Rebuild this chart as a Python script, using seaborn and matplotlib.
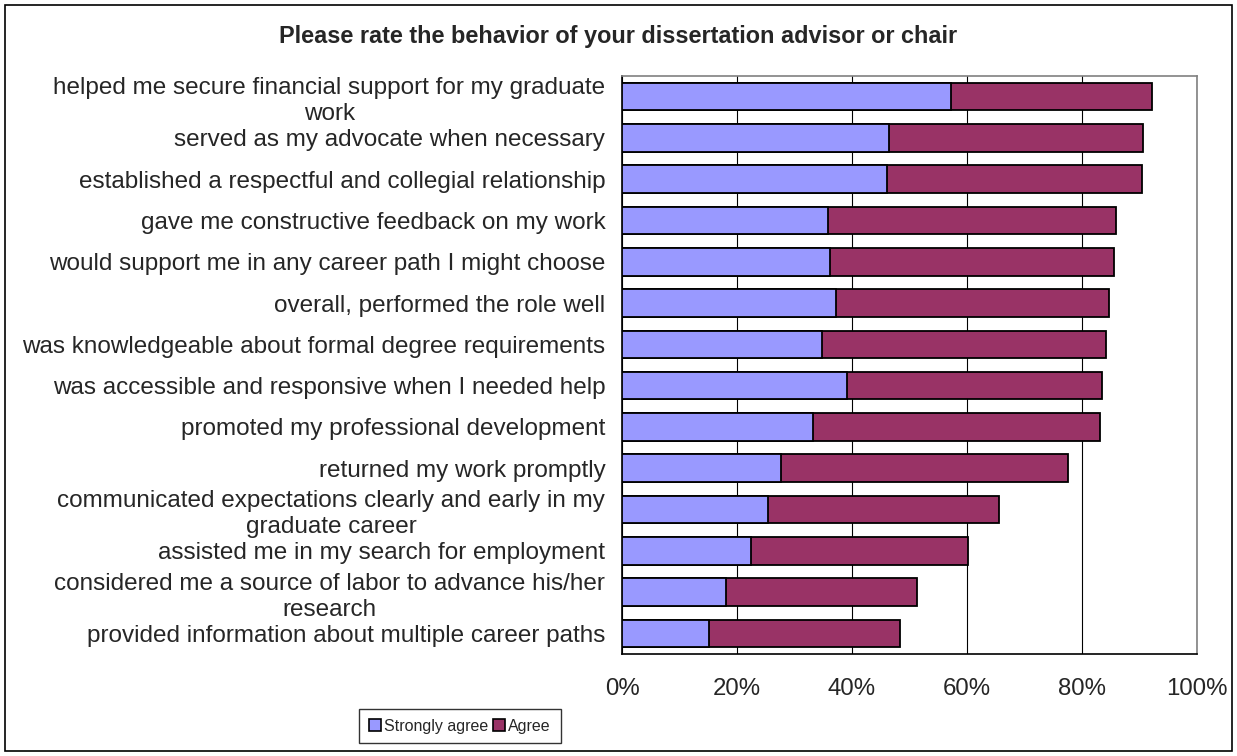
import matplotlib
matplotlib.use("Agg")
import matplotlib.pyplot as plt
import seaborn as sns
import pandas as pd
from matplotlib.patches import Rectangle, Patch
from matplotlib.ticker import FixedLocator

# ---------------- data (percent of respondents) ----------------
categories = [
    "helped me secure financial support for my graduate\nwork",
    "served as my advocate when necessary",
    "established a respectful and collegial relationship",
    "gave me constructive feedback on my work",
    "would support me in any career path I might choose",
    "overall, performed the role well",
    "was knowledgeable about formal degree requirements",
    "was accessible and responsive when I needed help",
    "promoted my professional development",
    "returned my work promptly",
    "communicated expectations clearly and early in my\ngraduate career",
    "assisted me in my search for employment",
    "considered me a source of labor to advance his/her\nresearch",
    "provided information about multiple career paths",
]
strongly_agree = [57.3, 46.4, 46.0, 35.9, 36.1, 37.2, 34.8, 39.2, 33.3, 27.6, 25.4, 22.5, 18.1, 15.1]
agree = [34.8, 44.2, 44.5, 50.0, 49.5, 47.5, 49.4, 44.2, 49.9, 50.0, 40.1, 37.7, 33.2, 33.3]
x_ticks = [0, 20, 40, 60, 80, 100]
x_tick_labels = ["0%", "20%", "40%", "60%", "80%", "100%"]

SA_COLOR = "#9999FF"
AG_COLOR = "#993366"

df = pd.DataFrame({"item": categories, "sa": strongly_agree, "ag": agree})
df["total"] = df["sa"] + df["ag"]

sns.set_style("white")
plt.rcParams["font.family"] = ["Liberation Sans", "DejaVu Sans"]

fig = plt.figure(figsize=(12.37, 7.56), dpi=100)
ax = fig.add_axes([622 / 1237, 1 - 654 / 756, 575 / 1237, 578 / 756])

# stacked look: full bar in Agree colour, Strongly agree drawn over it
sns.barplot(data=df, x="total", y="item", orient="h", color=AG_COLOR, saturation=1,
            width=0.67, edgecolor="black", linewidth=1.3, ax=ax, zorder=3)
sns.barplot(data=df, x="sa", y="item", orient="h", color=SA_COLOR, saturation=1,
            width=0.67, edgecolor="black", linewidth=1.3, ax=ax, zorder=4)

ax.set_xlim(0, 100)
ax.set_ylim(len(categories) - 0.5, -0.5)
ax.set_xlabel("")
ax.set_ylabel("")

ax.set_xticks(x_ticks)
ax.set_xticklabels(x_tick_labels, fontsize=17.3)
ax.xaxis.grid(True, color="black", linewidth=0.8, zorder=0)
ax.set_axisbelow(True)
ax.tick_params(axis="x", direction="out", length=5, width=1, color="black", pad=12)

ax.set_yticks(range(len(categories)))
ax.set_yticklabels(categories, fontsize=17.5, multialignment="center")
ax.tick_params(axis="y", which="major", length=0, pad=12)
ax.yaxis.set_minor_locator(FixedLocator([i - 0.5 for i in range(len(categories) + 1)]))
ax.tick_params(axis="y", which="minor", direction="out", length=5, width=1, color="black")
for lab in ax.get_yticklabels():
    lab.set_linespacing(1.25)

for side in ["left", "bottom"]:
    ax.spines[side].set_color("black")
    ax.spines[side].set_linewidth(1.2)
for side in ["top", "right"]:
    ax.spines[side].set_color("#808080")
    ax.spines[side].set_linewidth(1.2)

fig.text(0.5, 1 - 37 / 756, "Please rate the behavior of your dissertation advisor or chair",
         ha="center", va="center", fontsize=16.9, fontweight="bold")

handles = [Patch(facecolor=SA_COLOR, edgecolor="black", linewidth=1.2, label="Strongly agree"),
           Patch(facecolor=AG_COLOR, edgecolor="black", linewidth=1.2, label="Agree")]
leg = fig.legend(handles=handles, loc="center", bbox_to_anchor=(460 / 1237, 1 - 726 / 756),
                 ncol=2, frameon=True, fancybox=False, handlelength=0.75,
                 handleheight=0.75, handletextpad=0.2, columnspacing=0.3, borderpad=0.6,
                 borderaxespad=0, fontsize=11.5)
leg.get_frame().set_edgecolor("black")
leg.get_frame().set_linewidth(1)

fig.patches.append(Rectangle((5 / 1237, 5 / 756), 1227 / 1237, 746 / 756, transform=fig.transFigure,
                             fill=False, edgecolor="black", linewidth=1.2))

fig.savefig("out.png", dpi=100)
